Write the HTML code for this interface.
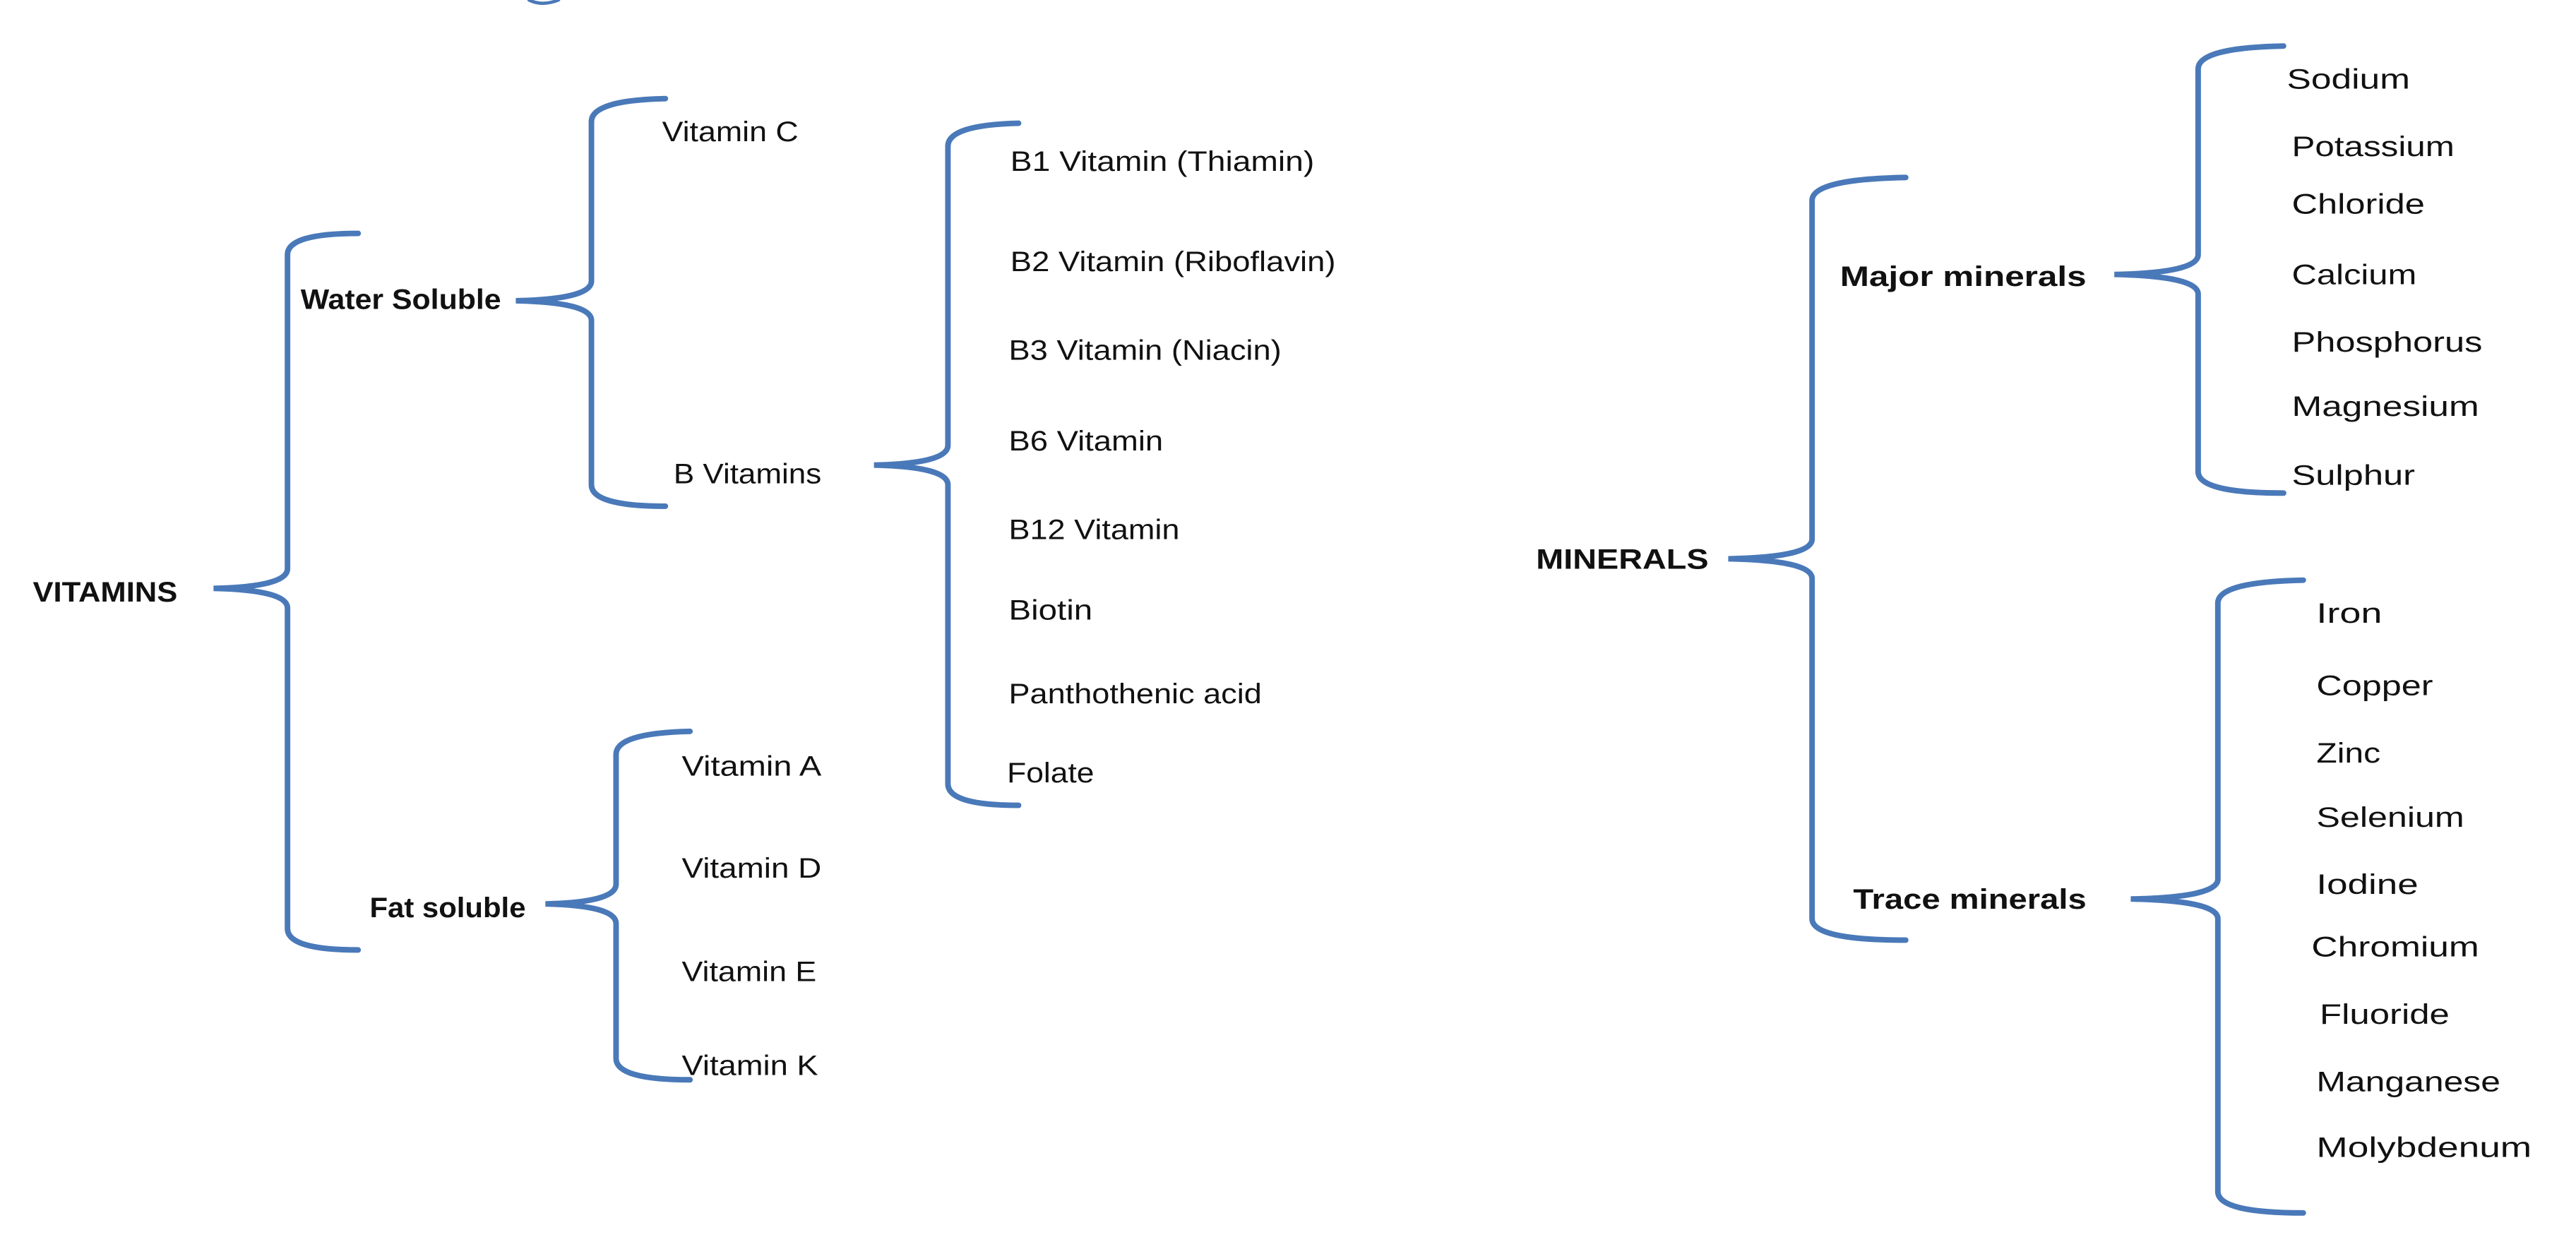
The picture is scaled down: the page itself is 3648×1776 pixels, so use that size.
<!DOCTYPE html>
<html><head><meta charset="utf-8"><style>
html,body{margin:0;padding:0;background:#fff;}
svg{display:block;}
text{font-family:"Liberation Sans",sans-serif;font-size:17px;fill:#111;}
.b{font-weight:bold;}
path{fill:none;stroke:#4a79b9;stroke-width:3.4;stroke-linecap:round;}
</style></head><body>
<svg width="3648" height="1776" viewBox="0 0 1568 763" preserveAspectRatio="none">
<!-- brackets: xe top, xv, tip, mid, bot -->
<path d="M218,142 Q175,142 175,155 L175,346 Q175,357 130,358 Q175,359 175,370 L175,565 Q175,578 218,578"/>
<path d="M405,60 Q360,61 360,74 L360,171 Q360,182 314,183 Q360,184 360,195 L360,295 Q360,308 405,308"/>
<path d="M620,75 Q577,76 577,89 L577,271 Q577,282 532,283 Q577,284 577,295 L577,477 Q577,490 620,490"/>
<path d="M420,445 Q375,446 375,459 L375,538 Q375,549 332,550 Q375,551 375,562 L375,644 Q375,657 420,657"/>
<path d="M1160,108 Q1103,109 1103,122 L1103,328 Q1103,339 1052,340 Q1103,341 1103,352 L1103,559 Q1103,572 1160,572"/>
<path d="M1390,28 Q1338,29 1338,42 L1338,155 Q1338,166 1287,167 Q1338,168 1338,179 L1338,287 Q1338,300 1390,300"/>
<path d="M1402,353 Q1350,354 1350,367 L1350,535 Q1350,546 1297,547 Q1350,548 1350,559 L1350,725 Q1350,738 1402,738"/>
<path d="M322,0 Q330,4 340,0" style="stroke-width:2"/>

<text class="b" x="20" y="366" textLength="88" lengthAdjust="spacingAndGlyphs">VITAMINS</text>
<text class="b" x="183" y="188" textLength="122" lengthAdjust="spacingAndGlyphs">Water Soluble</text>
<text class="b" x="225" y="558" textLength="95" lengthAdjust="spacingAndGlyphs">Fat soluble</text>
<text x="403" y="86" textLength="83" lengthAdjust="spacingAndGlyphs">Vitamin C</text>
<text x="410" y="294" textLength="90" lengthAdjust="spacingAndGlyphs">B Vitamins</text>
<text x="615" y="104" textLength="185" lengthAdjust="spacingAndGlyphs">B1 Vitamin (Thiamin)</text>
<text x="615" y="165" textLength="198" lengthAdjust="spacingAndGlyphs">B2 Vitamin (Riboflavin)</text>
<text x="614" y="219" textLength="166" lengthAdjust="spacingAndGlyphs">B3 Vitamin (Niacin)</text>
<text x="614" y="274" textLength="94" lengthAdjust="spacingAndGlyphs">B6 Vitamin</text>
<text x="614" y="328" textLength="104" lengthAdjust="spacingAndGlyphs">B12 Vitamin</text>
<text x="614" y="377" textLength="51" lengthAdjust="spacingAndGlyphs">Biotin</text>
<text x="614" y="428" textLength="154" lengthAdjust="spacingAndGlyphs">Panthothenic acid</text>
<text x="613" y="476" textLength="53" lengthAdjust="spacingAndGlyphs">Folate</text>
<text x="415" y="472" textLength="85" lengthAdjust="spacingAndGlyphs">Vitamin A</text>
<text x="415" y="534" textLength="85" lengthAdjust="spacingAndGlyphs">Vitamin D</text>
<text x="415" y="597" textLength="82" lengthAdjust="spacingAndGlyphs">Vitamin E</text>
<text x="415" y="654" textLength="83" lengthAdjust="spacingAndGlyphs">Vitamin K</text>

<text class="b" x="935" y="346" textLength="105" lengthAdjust="spacingAndGlyphs">MINERALS</text>
<text class="b" x="1120" y="174" textLength="150" lengthAdjust="spacingAndGlyphs">Major minerals</text>
<text class="b" x="1128" y="553" textLength="142" lengthAdjust="spacingAndGlyphs">Trace minerals</text>
<text x="1392" y="54" textLength="75" lengthAdjust="spacingAndGlyphs">Sodium</text>
<text x="1395" y="95" textLength="99" lengthAdjust="spacingAndGlyphs">Potassium</text>
<text x="1395" y="130" textLength="81" lengthAdjust="spacingAndGlyphs">Chloride</text>
<text x="1395" y="173" textLength="76" lengthAdjust="spacingAndGlyphs">Calcium</text>
<text x="1395" y="214" textLength="116" lengthAdjust="spacingAndGlyphs">Phosphorus</text>
<text x="1395" y="253" textLength="114" lengthAdjust="spacingAndGlyphs">Magnesium</text>
<text x="1395" y="295" textLength="75" lengthAdjust="spacingAndGlyphs">Sulphur</text>
<text x="1410" y="379" textLength="40" lengthAdjust="spacingAndGlyphs">Iron</text>
<text x="1410" y="423" textLength="71" lengthAdjust="spacingAndGlyphs">Copper</text>
<text x="1410" y="464" textLength="39" lengthAdjust="spacingAndGlyphs">Zinc</text>
<text x="1410" y="503" textLength="90" lengthAdjust="spacingAndGlyphs">Selenium</text>
<text x="1410" y="544" textLength="62" lengthAdjust="spacingAndGlyphs">Iodine</text>
<text x="1407" y="582" textLength="102" lengthAdjust="spacingAndGlyphs">Chromium</text>
<text x="1412" y="623" textLength="79" lengthAdjust="spacingAndGlyphs">Fluoride</text>
<text x="1410" y="664" textLength="112" lengthAdjust="spacingAndGlyphs">Manganese</text>
<text x="1410" y="704" textLength="131" lengthAdjust="spacingAndGlyphs">Molybdenum</text>
</svg>
</body></html>
